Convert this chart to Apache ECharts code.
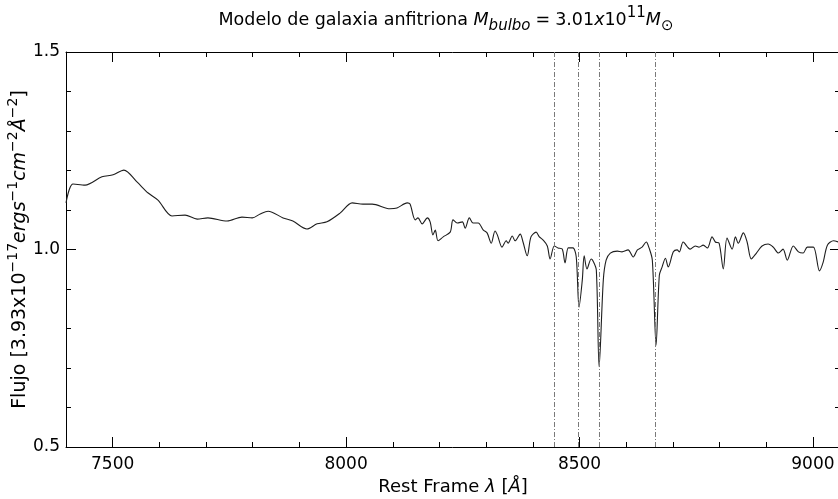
<!DOCTYPE html>
<html>
<head>
<meta charset="utf-8">
<script src="https://cdn.jsdelivr.net/npm/echarts@6/dist/echarts.min.js"></script>
<style>html,body{margin:0;padding:0;background:#fff}#c{width:838px;height:499px}</style>
</head>
<body>
<div id="c"></div>
<script>
const wavelength = [7400,7415,7441,7477,7501,7524,7552,7576,7597,7627,7655,7681,7704,7745,7777,7799,7816,7833,7865,7886,7916,7938,7959,7987,8013,8036,8056,8094,8109,8131,8137,8148,8154,8163,8174,8180,8186,8191,8197,8208,8223,8229,8238,8249,8255,8264,8272,8283,8294,8302,8311,8319,8324,8334,8343,8347,8356,8362,8373,8379,8388,8396,8407,8414,8422,8431,8437,8446,8454,8463,8469,8476,8486,8493,8499,8506,8510,8516,8525,8529,8536,8542,8551,8557,8566,8581,8591,8604,8615,8624,8634,8643,8649,8656,8664,8671,8677,8684,8690,8701,8709,8714,8722,8737,8748,8756,8765,8774,8784,8791,8799,8808,8816,8827,8834,8840,8851,8859,8868,8879,8891,8904,8915,8926,8936,8945,8958,8969,8979,8988,9001,9014,9022,9031,9044,9054];
const flux = [1.118,1.166,1.163,1.184,1.189,1.201,1.171,1.143,1.125,1.085,1.087,1.077,1.080,1.072,1.082,1.080,1.090,1.097,1.080,1.072,1.052,1.065,1.070,1.092,1.118,1.115,1.115,1.103,1.105,1.118,1.115,1.075,1.080,1.065,1.080,1.070,1.037,1.049,1.022,1.032,1.044,1.075,1.067,1.070,1.054,1.080,1.067,1.067,1.049,1.042,1.016,1.047,1.037,1.006,1.022,1.016,1.034,1.022,1.039,1.019,0.984,1.032,1.044,1.032,1.024,1.009,0.976,1.009,1.004,1.001,0.966,1.004,1.004,0.981,0.854,0.923,0.984,0.951,0.976,0.971,0.948,0.703,0.923,0.973,0.991,0.996,0.994,0.999,0.981,0.999,1.006,1.019,1.004,0.973,0.758,0.935,0.956,0.978,0.956,0.994,0.999,0.994,1.019,1.001,1.009,1.006,1.011,1.004,1.032,1.019,1.016,0.951,1.029,1.001,1.032,1.016,1.042,1.019,0.976,0.991,1.009,1.014,1.006,0.991,1.001,0.973,1.009,0.994,0.991,1.006,1.006,0.946,0.968,1.011,1.022,1.019];
const lineWavelengths = [8446, 8498, 8542, 8662];
const xMajorTicks = [7500, 8000, 8500, 9000];
const yMajorTicks = [0.5, 1.0, 1.5];

const FONT = 'DejaVu Sans';
function makeRich(big, small, lh) {
  const base = {fontFamily: FONT, lineHeight: lh, color: '#000', fontWeight: 'normal'};
  return {
    n: Object.assign({}, base, {fontSize: big}),
    i: Object.assign({}, base, {fontSize: big, fontStyle: 'italic'}),
    sub: Object.assign({}, base, {fontSize: small, verticalAlign: 'bottom'}),
    isub: Object.assign({}, base, {fontSize: small, verticalAlign: 'bottom', fontStyle: 'italic'}),
    sup: Object.assign({}, base, {fontSize: small, verticalAlign: 'top'}),
    eq: Object.assign({}, base, {fontSize: big, padding: [0, 5, 0, 5]})
  };
}
const richTitle = makeRich(17.5, 15, 28);
const richBig = makeRich(18, 13, 28);
const richY = makeRich(19, 14, 28);

const chart = echarts.init(document.getElementById('c'));
const XMIN = 7400, XMAX = 9058;
const axisCommon = {type: 'value', min: XMIN, max: XMAX, splitLine: {show: false}};
chart.setOption({
  animation: false,
  backgroundColor: '#fff',
  title: {
    text: '{n|Modelo de galaxia anfitriona }{i|M}{isub|bulbo}{eq|=}{n|3.01}{i|x}{n|10}{sup|11}{i|M}{sub|⊙}',
    left: 441, top: 1, textAlign: 'center',
    textStyle: {fontWeight: 'normal', rich: richTitle}
  },
  grid: {left: 66, top: 52, width: 774, height: 395, containLabel: false, outerBoundsMode: 'none'},
  xAxis: [
    Object.assign({}, axisCommon, {
      position: 'bottom',
      axisLine: {show: true, lineStyle: {color: '#000', width: 1}},
      axisTick: {show: true, inside: true, length: 10, customValues: xMajorTicks, lineStyle: {color: '#000'}},
      axisLabel: {show: true, customValues: xMajorTicks, fontFamily: FONT, fontSize: 17, color: '#000', margin: 9,
        formatter: v => String(v)},
      name: '{n|Rest Frame }{i|λ}{n| [}{i|Å}{n|]}',
      nameLocation: 'middle', nameGap: 22,
      nameTextStyle: {rich: richBig}
    }),
    Object.assign({}, axisCommon, {
      position: 'bottom', interval: 100,
      axisLine: {show: false},
      axisTick: {show: true, inside: true, length: 5, lineStyle: {color: '#000'}},
      axisLabel: {show: false}
    }),
    Object.assign({}, axisCommon, {
      position: 'top',
      axisLine: {show: true, lineStyle: {color: '#000', width: 1}},
      axisTick: {show: true, inside: true, length: 10, customValues: xMajorTicks, lineStyle: {color: '#000'}},
      axisLabel: {show: false}
    }),
    Object.assign({}, axisCommon, {
      position: 'top', interval: 100,
      axisLine: {show: false},
      axisTick: {show: true, inside: true, length: 5, lineStyle: {color: '#000'}},
      axisLabel: {show: false}
    })
  ],
  yAxis: [
    {
      type: 'value', min: 0.5, max: 1.5, interval: 0.5, position: 'left',
      splitLine: {show: false},
      axisLine: {show: true, lineStyle: {color: '#000', width: 1}},
      axisTick: {show: true, inside: true, length: 10, lineStyle: {color: '#000'}},
      axisLabel: {show: true, fontFamily: FONT, fontSize: 17, color: '#000', margin: 6,
        formatter: v => yMajorTicks.some(t => Math.abs(t - v) < 1e-9) ? v.toFixed(1) : ''},
      name: '{n|Flujo [3.93x10}{sup|−17}{i|ergs}{sup|−1}{i|cm}{sup|−2}{i|Å}{sup|−2}{n|]}',
      nameLocation: 'middle', nameRotate: 90, nameGap: 32, nameMoveOverlap: false,
      nameTextStyle: {rich: richY}
    },
    {
      type: 'value', min: 0.5, max: 1.5, interval: 0.1, position: 'left',
      splitLine: {show: false}, axisLine: {show: false},
      axisTick: {show: true, inside: true, length: 5, lineStyle: {color: '#000'}},
      axisLabel: {show: false}
    },
    {
      type: 'value', min: 0.5, max: 1.5, interval: 0.5, position: 'right',
      splitLine: {show: false},
      axisLine: {show: true, lineStyle: {color: '#000', width: 1}},
      axisTick: {show: true, inside: true, length: 10, lineStyle: {color: '#000'}},
      axisLabel: {show: false}
    },
    {
      type: 'value', min: 0.5, max: 1.5, interval: 0.1, position: 'right',
      splitLine: {show: false}, axisLine: {show: false},
      axisTick: {show: true, inside: true, length: 5, lineStyle: {color: '#000'}},
      axisLabel: {show: false}
    }
  ],
  series: [{
    type: 'line',
    xAxisIndex: 0, yAxisIndex: 0,
    data: wavelength.map((w, k) => [w, flux[k]]),
    showSymbol: false, symbol: 'none',
    smooth: 0.3,
    lineStyle: {color: '#1e1e1e', width: 1.1},
    clip: true,
    markLine: {
      silent: true, symbol: ['none', 'none'],
      label: {show: false},
      lineStyle: {color: '#7a7a7a', width: 1, type: [5, 2, 1, 2]},
      data: lineWavelengths.map(w => ({xAxis: w}))
    }
  }]
});
</script>
</body>
</html>
